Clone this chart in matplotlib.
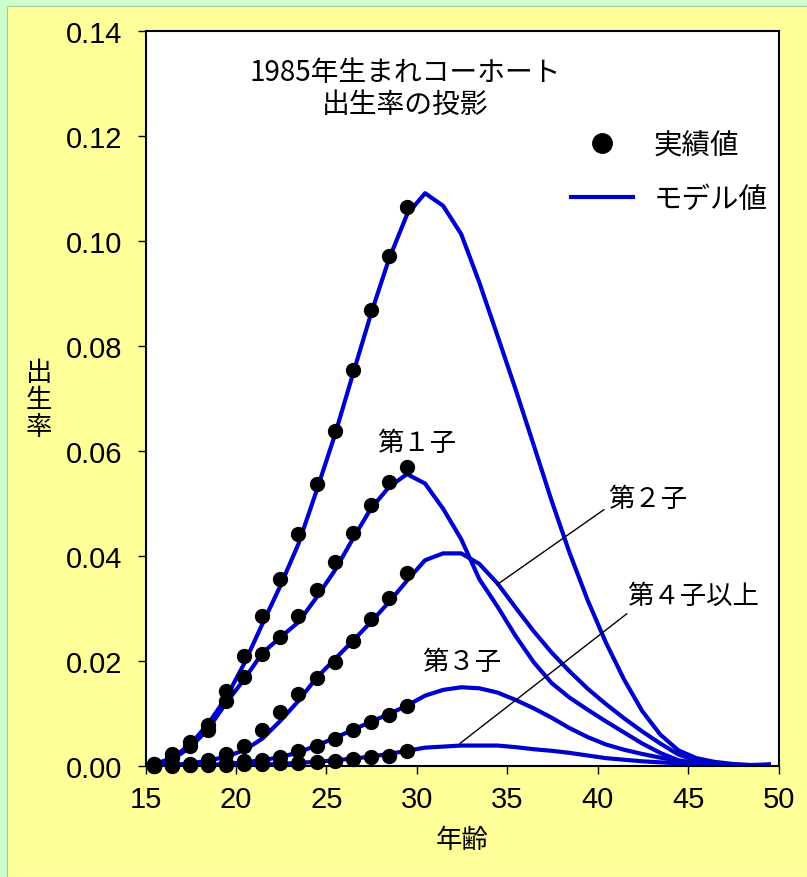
import numpy as np
import matplotlib
matplotlib.use('Agg')
import matplotlib.pyplot as plt
from matplotlib.patches import Rectangle
from matplotlib.lines import Line2D

plt.rcParams['font.family'] = ['Noto Sans CJK JP', 'DejaVu Sans']

# ages (observed up to 29, model up to 49)
obs_age = np.arange(15, 30)
mod_age = np.arange(15, 50)

# observed rates
obs_total = [0.0004, 0.0022, 0.0045, 0.0079, 0.0142, 0.0209, 0.0285, 0.0356, 0.0441, 0.0537,
             0.0638, 0.0755, 0.0869, 0.0971, 0.1065]
obs_1st = [0.0003, 0.0016, 0.0038, 0.0069, 0.0123, 0.0170, 0.0214, 0.0246, 0.0285, 0.0335,
           0.0388, 0.0443, 0.0498, 0.0540, 0.0570]
obs_2nd = [0.0000, 0.0001, 0.0003, 0.0012, 0.0022, 0.0039, 0.0069, 0.0102, 0.0137, 0.0168,
           0.0198, 0.0238, 0.0280, 0.0320, 0.0368]
obs_3rd = [0.0000, 0.0001, 0.0002, 0.0003, 0.0006, 0.0010, 0.0012, 0.0018, 0.0029, 0.0039,
           0.0051, 0.0069, 0.0083, 0.0098, 0.0115]
obs_4th = [0.0000, 0.0000, 0.0001, 0.0001, 0.0002, 0.0003, 0.0004, 0.0005, 0.0006, 0.0008,
           0.0010, 0.0013, 0.0017, 0.0020, 0.0028]

# model rates
mod_total = [0.0003, 0.0015, 0.0040, 0.0080, 0.0130, 0.0195, 0.0270, 0.0343, 0.0423, 0.0524,
             0.0629, 0.0745, 0.0860, 0.0965, 0.1050, 0.1091, 0.1067, 0.1013, 0.0921, 0.0820,
             0.0718, 0.0612, 0.0505, 0.0405, 0.0315, 0.0235, 0.0165, 0.0105, 0.0060, 0.0030,
             0.0015, 0.0008, 0.0004, 0.0002, 0.0003]
mod_1st = [0.0002, 0.0012, 0.0035, 0.0070, 0.0120, 0.0165, 0.0215, 0.0245, 0.0274, 0.0321,
           0.0372, 0.0432, 0.0490, 0.0531, 0.0556, 0.0538, 0.0490, 0.0432, 0.0356, 0.0304,
           0.0248, 0.0198, 0.0158, 0.0130, 0.0107, 0.0085, 0.0064, 0.0043, 0.0025, 0.0011,
           0.0005, 0.0002, 0.0001, 0.0001, 0.0002]
mod_2nd = [0.0000, 0.0002, 0.0005, 0.0010, 0.0018, 0.0030, 0.0052, 0.0086, 0.0124, 0.0168,
           0.0203, 0.0238, 0.0274, 0.0312, 0.0353, 0.0392, 0.0405, 0.0405, 0.0385, 0.0348,
           0.0302, 0.0257, 0.0216, 0.0180, 0.0147, 0.0118, 0.0091, 0.0066, 0.0043, 0.0022,
           0.0010, 0.0004, 0.0002, 0.0001, 0.0002]
mod_3rd = [0.0000, 0.0000, 0.0001, 0.0002, 0.0004, 0.0007, 0.0011, 0.0017, 0.0026, 0.0039,
           0.0053, 0.0069, 0.0084, 0.0099, 0.0115, 0.0134, 0.0145, 0.0150, 0.0148, 0.0140,
           0.0126, 0.0110, 0.0092, 0.0072, 0.0055, 0.0041, 0.0031, 0.0023, 0.0016, 0.0010,
           0.0006, 0.0003, 0.0001, 0.0001, 0.0002]
mod_4th = [0.0001, 0.0001, 0.0001, 0.0002, 0.0002, 0.0003, 0.0003, 0.0004, 0.0006, 0.0008,
           0.0011, 0.0014, 0.0018, 0.0023, 0.0029, 0.0035, 0.0037, 0.0039, 0.0039, 0.0039,
           0.0036, 0.0032, 0.0029, 0.0025, 0.0020, 0.0015, 0.0012, 0.0009, 0.0007, 0.0005,
           0.0003, 0.0002, 0.0001, 0.0001, 0.0002]

# rates are plotted at the middle of each age year
shift = 0.45
blue = '#0000CC'

fig = plt.figure(figsize=(8.07, 8.78), dpi=100)
fig.patch.set_facecolor('#CCFFCC')
fig.add_artist(Rectangle((7 / 807, 0), 1, 1 - 7 / 878, transform=fig.transFigure,
                         facecolor='#FFFF99', edgecolor='#A8C8A8', lw=0.8, zorder=-1))

ax = fig.add_axes([0.1804, 0.1264, 0.7845, 0.8372])
ax.set_facecolor('white')

for m in [mod_total, mod_1st, mod_2nd, mod_3rd, mod_4th]:
    ax.plot(mod_age + shift, m, color=blue, lw=3, zorder=2)
for o in [obs_total, obs_1st, obs_2nd, obs_3rd, obs_4th]:
    ax.plot(obs_age + shift, o, 'o', color='black', ms=10, zorder=3, clip_on=False)

ax.set_xlim(15, 50)
ax.set_ylim(0, 0.14)
ax.set_xticks(range(15, 51, 5))
ax.set_yticks(np.arange(0, 0.141, 0.02))
ax.yaxis.set_major_formatter(matplotlib.ticker.FormatStrFormatter('%.2f'))
ax.tick_params(direction='out', length=6, width=1, labelsize=21)
ax.tick_params(axis='y', pad=11)
ax.tick_params(axis='x', pad=8)
for lab in ax.get_xticklabels() + ax.get_yticklabels():
    lab.set_family(['Liberation Sans', 'DejaVu Sans'])
for s in ax.spines.values():
    s.set_linewidth(1.5)

ax.set_xlabel('年齢', fontsize=19, labelpad=9)
fig.text(39 / 807, 1 - 401 / 878, '出\n生\n率', fontsize=19, ha='center', va='center',
         linespacing=1.0)

ax.text(29.35, 0.1322, '1985年生まれコーホート', fontsize=20, ha='center', va='center')
ax.text(29.35, 0.1261, '出生率の投影', fontsize=20, ha='center', va='center')

# parity labels and leader lines
ax.text(30.0, 0.0617, '第１子', fontsize=19, ha='center', va='center')
ax.text(32.5, 0.0200, '第３子', fontsize=19, ha='center', va='center')
ax.annotate('第２子', xy=(34.41, 0.0345), xytext=(42.75, 0.0509), fontsize=19,
            ha='center', va='center',
            arrowprops=dict(arrowstyle='-', color='black', lw=1, shrinkA=0, shrinkB=0,
                            relpos=(-0.05, 0.1)))
ax.annotate('第４子以上', xy=(32.38, 0.0043), xytext=(45.25, 0.0326), fontsize=19,
            ha='center', va='center',
            arrowprops=dict(arrowstyle='-', color='black', lw=1, shrinkA=0, shrinkB=0,
                            relpos=(0.0, -0.2)))

handles = [Line2D([], [], marker='o', color='black', ls='none', ms=14),
           Line2D([], [], color=blue, lw=3)]
ax.legend(handles, ['実績値', 'モデル値'], loc='upper right', bbox_to_anchor=(0.982, 0.865),
          frameon=False, fontsize=20.5, handlelength=2.2, handletextpad=0.7,
          labelspacing=0.85, borderpad=0, borderaxespad=0)

fig.savefig('out.png', dpi=100, facecolor=fig.get_facecolor())
